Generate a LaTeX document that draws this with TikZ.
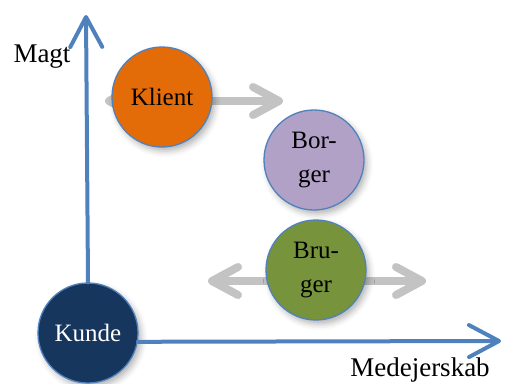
\documentclass[tikz,border=0pt]{standalone}
\usepackage{fontspec}
\setmainfont{Liberation Serif}
\usetikzlibrary{arrows.meta,shadows.blur}
\definecolor{axisblue}{HTML}{4F81BD}
\definecolor{kundefill}{HTML}{17365D}
\definecolor{klientfill}{HTML}{E36C09}
\definecolor{borgerfill}{HTML}{B2A1C7}
\definecolor{brugerfill}{HTML}{77933C}
\definecolor{arrowgray}{HTML}{C3C3C3}
\tikzset{
  role/.style={circle, draw=axisblue, line width=1.3pt, minimum size=100pt, inner sep=0pt,
    align=center, font=\fontsize{25}{34}\selectfont,
    blur shadow={shadow xshift=3pt, shadow yshift=-4pt, shadow blur radius=6pt, shadow opacity=30}},
  axis/.style={draw=axisblue, line width=4pt, line cap=round,
    -{Straight Barb[length=30pt, width=32pt, round]}},
  move/.style={draw=arrowgray, line width=8pt,
    {Straight Barb[length=26pt, width=28pt, round]}-{Straight Barb[length=26pt, width=28pt, round]}},
  label/.style={font=\fontsize{27}{30}\selectfont}
}
\begin{document}
\begin{tikzpicture}[x=1pt, y=-1pt]
\useasboundingbox (0,0) rectangle (505,383);
% arrow ends
\coordinate (ytip) at (86,15);
\coordinate (xtip) at (501,341);
\coordinate (klL) at (105,101);
\coordinate (klR) at (283,101);
\coordinate (brL) at (208,281);
\coordinate (brR) at (426,281);

% gray movement arrows behind the circles
\draw[move] (klL) -- (klR);
\draw[move] (brL) -- (brR);

% roles
\node[role, fill=klientfill] (klient) at (162,97) {Klient};
\node[role, fill=borgerfill] (borger) at (314,160) {Bor-\\ger};
\node[role, fill=brugerfill] (bruger) at (316,270) {Bru-\\ger};
\node[role, fill=kundefill, text=white] (kunde) at (88,333) {Kunde};

% axes
\draw[axis] (kunde.north) -- (ytip);
\draw[axis] (kunde.-10) -- (xtip);

% axis labels
\node[label] (magt) at (42,57) {Magt};
\node[label] (medej) at (420,370) {Medejerskab};
\end{tikzpicture}
\end{document}
